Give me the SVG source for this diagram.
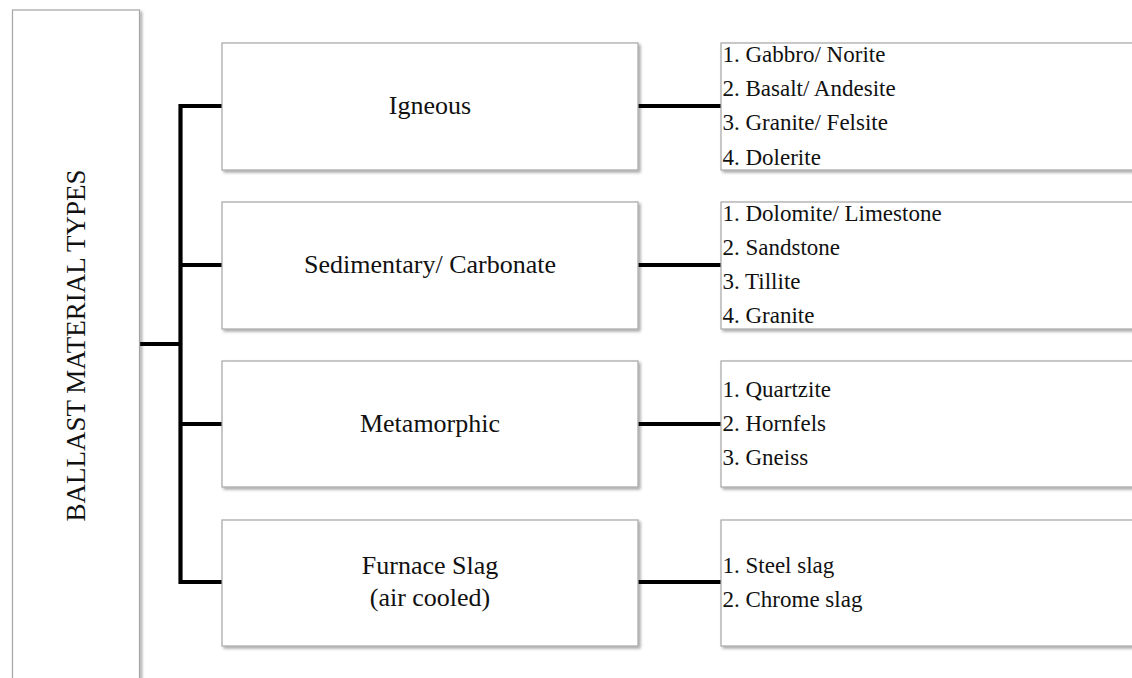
<svg xmlns="http://www.w3.org/2000/svg" width="1132" height="678" viewBox="0 0 1132 678">
<style>
.box{fill:#fff;stroke:#a6a6a6;stroke-width:1.2;filter:url(#sh);}
.lbl{font-family:"Liberation Serif","Times New Roman",serif;font-size:26px;fill:#111;text-anchor:middle;}
.itm{font-family:"Liberation Serif","Times New Roman",serif;font-size:23px;fill:#111;}
.con{fill:none;stroke:#000;stroke-width:4.2;}
</style>
<defs>
<filter id="sh" x="-5%" y="-5%" width="115%" height="120%">
<feDropShadow dx="2" dy="2" stdDeviation="1.5" flood-color="#000" flood-opacity="0.35"/>
</filter>
</defs>
<rect width="1132" height="678" fill="#fff"/>
<g id="connectors">
<path class="con" d="M222,106 H180.5 V582 H222"/>
<path class="con" d="M180.5,265 H222"/>
<path class="con" d="M180.5,424 H222"/>
<path class="con" d="M139,344 H180.5"/>
<path class="con" d="M638,106 H721"/>
<path class="con" d="M638,265 H721"/>
<path class="con" d="M638,424 H721"/>
<path class="con" d="M638,582 H721"/>
</g>
<g id="root">
<rect class="box" x="12.5" y="10" width="127" height="690"/>
<text class="lbl" style="font-size:27px" transform="translate(85,345.5) rotate(-90)" x="0" y="0">BALLAST MATERIAL TYPES</text>
</g>
<g id="igneous">
<rect class="box" x="222" y="43" width="416" height="127"/>
<text class="lbl" x="430" y="114">Igneous</text>
</g>
<g id="sedimentary">
<rect class="box" x="222" y="202" width="416" height="127"/>
<text class="lbl" x="430" y="273">Sedimentary/ Carbonate</text>
</g>
<g id="metamorphic">
<rect class="box" x="222" y="361" width="416" height="126"/>
<text class="lbl" x="430" y="432">Metamorphic</text>
</g>
<g id="slag">
<rect class="box" x="222" y="520" width="416" height="126"/>
<text class="lbl" x="430" y="574">Furnace Slag</text>
<text class="lbl" x="430" y="606">(air cooled)</text>
</g>
<g id="igneous-list">
<rect class="box" x="721" y="43" width="430" height="127"/>
<text class="itm" x="722.5" y="62">1. Gabbro/ Norite</text>
<text class="itm" x="722.5" y="96">2. Basalt/ Andesite</text>
<text class="itm" x="722.5" y="130">3. Granite/ Felsite</text>
<text class="itm" x="722.5" y="164.5">4. Dolerite</text>
</g>
<g id="sedimentary-list">
<rect class="box" x="721" y="202" width="430" height="127"/>
<text class="itm" x="722.5" y="221">1. Dolomite/ Limestone</text>
<text class="itm" x="722.5" y="255">2. Sandstone</text>
<text class="itm" x="722.5" y="289">3. Tillite</text>
<text class="itm" x="722.5" y="323">4. Granite</text>
</g>
<g id="metamorphic-list">
<rect class="box" x="721" y="361" width="430" height="126"/>
<text class="itm" x="722.5" y="397">1. Quartzite</text>
<text class="itm" x="722.5" y="431">2. Hornfels</text>
<text class="itm" x="722.5" y="465">3. Gneiss</text>
</g>
<g id="slag-list">
<rect class="box" x="721" y="520" width="430" height="126"/>
<text class="itm" x="722.5" y="573">1. Steel slag</text>
<text class="itm" x="722.5" y="607">2. Chrome slag</text>
</g>
</svg>
